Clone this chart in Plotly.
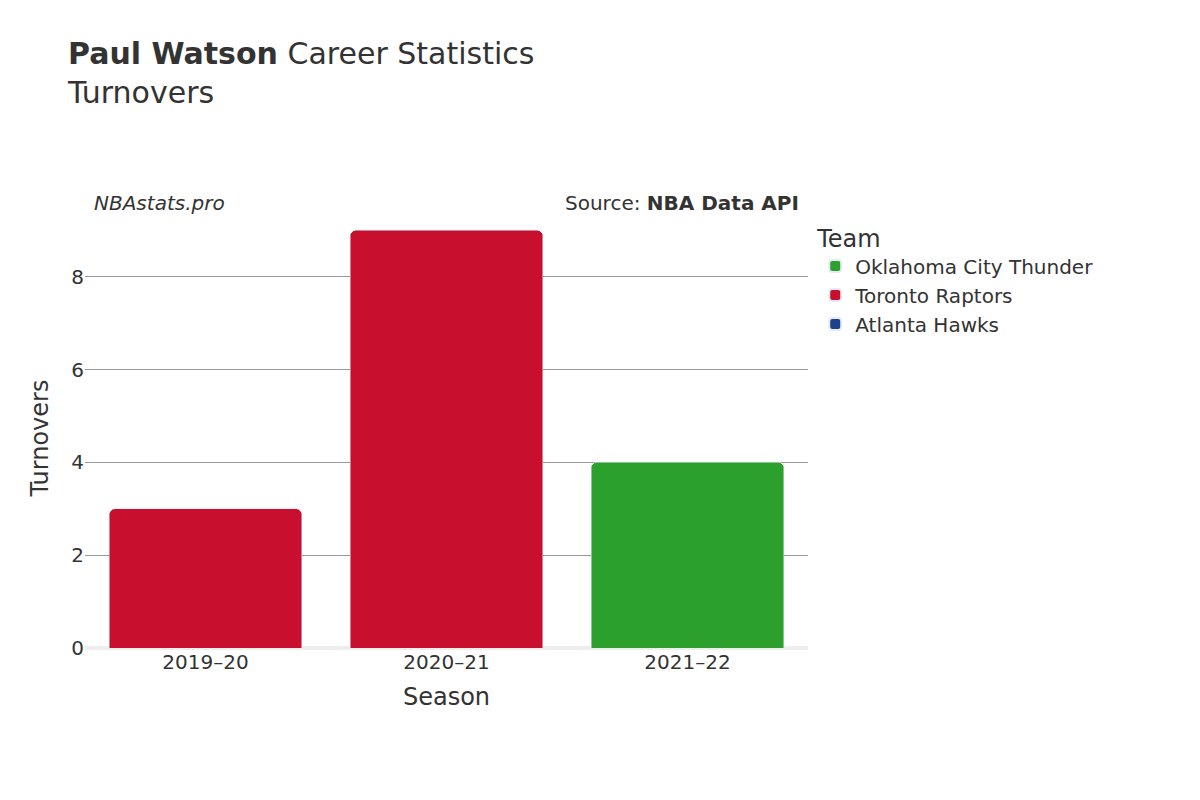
import plotly.graph_objects as go

seasons = ["2019–20", "2020–21", "2021–22"]
teams = ["Atlanta Hawks", "Toronto Raptors", "Oklahoma City Thunder"]
colors = ["#1D428A", "#C8102E", "#2CA02C"]
values = {
    "Atlanta Hawks": [0, None, None],
    "Toronto Raptors": [3, 9, None],
    "Oklahoma City Thunder": [None, None, 4],
}

fig = go.Figure()
for t, c in zip(teams, colors):
    fig.add_trace(go.Bar(x=seasons, y=values[t], name=t, marker_color=c))

fig.update_layout(
    width=1200, height=800, barmode="stack", barcornerradius=6, bargap=0.2,
    plot_bgcolor="white", paper_bgcolor="white",
    font=dict(family="DejaVu Sans", size=20, color="#333"),
    margin=dict(l=77, r=400, t=220, b=160),
    title=dict(text="<b>Paul Watson</b> Career Statistics<br>Turnovers", x=0.05, xanchor="left",
               y=0.93, yanchor="top", font=dict(size=30)),
    legend=dict(title=dict(text="Team", font=dict(size=24)), x=1.01, y=1.03, yanchor="top",
                font=dict(size=20), itemsizing="constant"),
    xaxis=dict(title=dict(text="Season", font=dict(size=24)), showgrid=False),
    yaxis=dict(title=dict(text="Turnovers", font=dict(size=24)), range=[0, 9.05],
               gridcolor="#999", zeroline=True, zerolinecolor="#eee", zerolinewidth=4,
               tickvals=[0, 2, 4, 6, 8]),
    annotations=[
        dict(text="<i>NBAstats.pro</i>", x=0.01, xanchor="left", y=1.06, yanchor="middle",
             xref="paper", yref="paper", showarrow=False, font=dict(size=20)),
        dict(text="Source: <b>NBA Data API</b>", x=0.99, xanchor="right", y=1.06, yanchor="middle",
             xref="paper", yref="paper", showarrow=False, font=dict(size=20)),
    ],
)
fig.write_html("out.html")
